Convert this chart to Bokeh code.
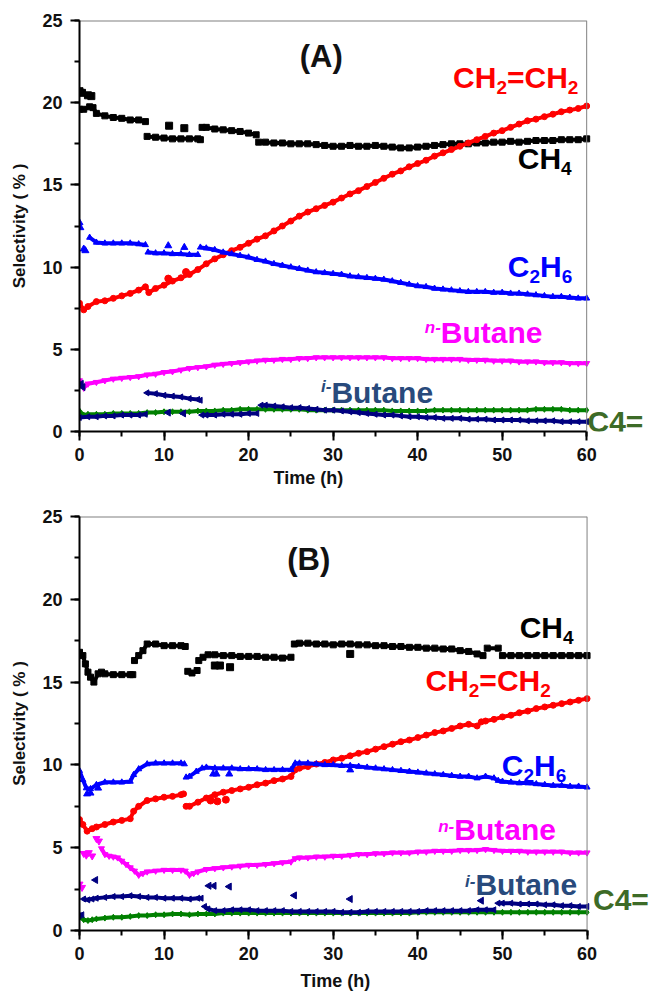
import math
from bokeh.plotting import figure
from bokeh.models import Label, SingleIntervalTicker, Range1d, Span, Title
from bokeh.layouts import column
from bokeh.embed import file_html
from bokeh.resources import INLINE

NAN = float("nan")

# ---------------- Panel (A) data: (time h, selectivity %) segments ----------------
A_CH4 = [
    [(0, 19.6), (0.5, 19.6), (1.2, 19.75), (1.6, 19.7), (2, 19.35), (3, 19.2), (4, 19.1), (5, 19.05),
     (6, 18.95), (7, 18.95), (7.8, 18.85)],
    [(8, 17.95), (9, 17.9), (10, 17.85), (11, 17.8), (12, 17.8), (13, 17.8), (14, 17.8), (14.3, 17.75)],
    [(14.5, 18.5), (15, 18.5), (16, 18.4), (17, 18.35), (18, 18.3), (19, 18.25), (20, 18.15), (20.9, 18.05)],
    [(21.2, 17.6), (22, 17.6), (23, 17.55), (24, 17.55), (25, 17.5), (26, 17.5), (27, 17.5), (28, 17.45),
     (29, 17.4), (30, 17.35), (31, 17.35), (32, 17.4), (33, 17.35), (34, 17.35), (35, 17.4), (36, 17.35),
     (37, 17.3), (38, 17.25), (39, 17.25), (40, 17.3), (41, 17.35), (42, 17.4), (43, 17.45), (44, 17.5),
     (45, 17.5), (46, 17.5), (47, 17.55), (48, 17.55), (49, 17.6), (50, 17.6), (51, 17.65), (52, 17.6),
     (53, 17.65), (54, 17.7), (55, 17.7), (56, 17.7), (57, 17.75), (58, 17.75), (59, 17.75), (60, 17.8)],
]
A_CH4_pts = [(0, 20.7), (0.3, 20.6), (1.0, 20.45), (1.4, 20.4), (10.6, 18.6), (12.4, 18.45)]

A_C2H4 = [
    [(0, 7.8), (0.5, 7.4), (1, 7.6), (2, 7.9), (3, 7.95), (4, 8.1), (5, 8.25), (6, 8.4), (7, 8.6), (7.8, 8.8),
     (8.2, 8.45), (9, 8.7), (10, 8.9), (11, 9.15), (12, 9.35), (13, 9.55), (14, 9.85), (15, 10.2), (16, 10.5),
     (17, 10.75), (18, 11.0), (19, 11.2), (20, 11.45), (21, 11.7), (22, 11.9), (23, 12.2), (24, 12.5),
     (25, 12.8), (26, 13.1), (27, 13.35), (28, 13.55), (29, 13.75), (30, 13.95), (31, 14.2), (32, 14.45),
     (33, 14.65), (34, 14.9), (35, 15.15), (36, 15.4), (37, 15.65), (38, 15.85), (39, 16.1), (40, 16.3),
     (41, 16.5), (42, 16.75), (43, 16.95), (44, 17.15), (45, 17.35), (46, 17.55), (47, 17.75), (48, 17.95),
     (49, 18.15), (50, 18.3), (51, 18.5), (52, 18.7), (53, 18.9), (54, 19.0), (55, 19.15), (56, 19.3),
     (57, 19.45), (58, 19.55), (59, 19.65), (60, 19.8)],
]
A_C2H4_pts = [(10.5, 9.3), (12.6, 9.7)]

A_C2H6 = [
    [(1.2, 11.8), (2, 11.5), (3, 11.45), (4, 11.45), (5, 11.45), (6, 11.45), (7, 11.4), (7.8, 11.35)],
    [(8.1, 10.9), (9, 10.85), (10, 10.85), (11, 10.8), (12, 10.8), (13, 10.75), (14, 10.75)],
    [(14.3, 11.2), (15, 11.15), (16, 11.05), (17, 10.9), (18, 10.8), (19, 10.7), (20, 10.6), (21, 10.45),
     (22, 10.35), (23, 10.2), (24, 10.1), (25, 10.0), (26, 9.9), (27, 9.8), (28, 9.7), (29, 9.65), (30, 9.6),
     (31, 9.55), (32, 9.45), (33, 9.4), (34, 9.35), (35, 9.3), (36, 9.25), (37, 9.15), (38, 9.05), (39, 8.95),
     (40, 8.85), (41, 8.8), (42, 8.7), (43, 8.65), (44, 8.6), (45, 8.55), (46, 8.5), (47, 8.5), (48, 8.5),
     (49, 8.45), (50, 8.45), (51, 8.4), (52, 8.4), (53, 8.35), (54, 8.3), (55, 8.25), (56, 8.2), (57, 8.2),
     (58, 8.15), (59, 8.1), (60, 8.1)],
]
A_C2H6_pts = [(0, 12.7), (0.1, 12.4), (0.5, 11.1), (0.7, 11.0), (10.5, 11.3), (12.4, 11.2)]

A_nBut = [
    [(0, 3.1), (0.5, 2.65), (1, 2.9), (2, 3.0), (3, 3.1), (4, 3.2), (5, 3.25), (6, 3.3), (7, 3.35), (8, 3.45),
     (9, 3.5), (10, 3.6), (11, 3.65), (12, 3.75), (13, 3.85), (14, 3.9), (15, 3.95), (16, 4.05), (17, 4.1),
     (18, 4.15), (19, 4.2), (20, 4.25), (21, 4.3), (22, 4.35), (23, 4.35), (24, 4.4), (25, 4.4), (26, 4.45),
     (27, 4.45), (28, 4.5), (29, 4.5), (30, 4.5), (31, 4.5), (32, 4.5), (33, 4.5), (34, 4.5), (35, 4.5),
     (36, 4.5), (37, 4.45), (38, 4.45), (39, 4.45), (40, 4.45), (41, 4.4), (42, 4.4), (43, 4.4), (44, 4.4),
     (45, 4.4), (46, 4.35), (47, 4.35), (48, 4.35), (49, 4.3), (50, 4.3), (51, 4.3), (52, 4.25), (53, 4.25),
     (54, 4.25), (55, 4.2), (56, 4.2), (57, 4.2), (58, 4.15), (59, 4.15), (60, 4.15)],
]
A_nBut_pts = []

A_iBut = [
    [(0, 0.85), (1, 0.9), (2, 0.9), (3, 0.95), (4, 0.95), (5, 1.0), (6, 1.0), (7, 1.0), (7.8, 1.05)],
    [(8, 2.35), (9, 2.3), (10, 2.2), (11, 2.15), (12, 2.1), (13, 2.0), (14, 1.95), (14.3, 1.9)],
    [(14.5, 1.0), (15, 1.0), (16, 1.0), (17, 1.05), (18, 1.05), (19, 1.05), (20, 1.1), (21, 1.1)],
    [(21.5, 1.6), (22, 1.6), (23, 1.55), (24, 1.5), (25, 1.45), (26, 1.45), (27, 1.4), (28, 1.35), (29, 1.3),
     (30, 1.3), (31, 1.25), (32, 1.2), (33, 1.15), (34, 1.1), (35, 1.05), (36, 1.0), (37, 1.0), (38, 0.95),
     (39, 0.9), (40, 0.9), (41, 0.85), (42, 0.85), (43, 0.8), (44, 0.8), (45, 0.8), (46, 0.75), (47, 0.75),
     (48, 0.75), (49, 0.7), (50, 0.7), (51, 0.7), (52, 0.7), (53, 0.65), (54, 0.65), (55, 0.65), (56, 0.65),
     (57, 0.6), (58, 0.6), (59, 0.6), (60, 0.6)],
]
A_iBut_pts = [(0.2, 2.9), (0.4, 2.7), (10.5, 1.15), (12.3, 1.1)]

A_C4 = [
    [(0, 1.25), (0.5, 1.0), (1, 1.05), (2, 1.05), (3, 1.05), (4, 1.1), (5, 1.1), (6, 1.1), (7, 1.1), (8, 1.15),
     (9, 1.15), (10, 1.2), (11, 1.2), (12, 1.2), (13, 1.2), (14, 1.25), (15, 1.25), (16, 1.25), (17, 1.3),
     (18, 1.3), (19, 1.35), (20, 1.35), (21, 1.35), (22, 1.35), (23, 1.35), (24, 1.35), (25, 1.35), (26, 1.35),
     (27, 1.3), (28, 1.3), (29, 1.3), (30, 1.3), (31, 1.3), (32, 1.3), (33, 1.3), (34, 1.3), (35, 1.3),
     (36, 1.3), (37, 1.25), (38, 1.25), (39, 1.25), (40, 1.25), (41, 1.25), (42, 1.3), (43, 1.3), (44, 1.3),
     (45, 1.3), (46, 1.3), (47, 1.3), (48, 1.3), (49, 1.3), (50, 1.3), (51, 1.3), (52, 1.3), (53, 1.3),
     (54, 1.35), (55, 1.35), (56, 1.35), (57, 1.35), (58, 1.3), (59, 1.3), (60, 1.3)],
]
A_C4_pts = []

# ---------------- Panel (B) data ----------------
B_CH4 = [
    [(0, 16.8), (0.4, 16.6), (0.7, 16.1), (1.0, 15.6), (1.3, 15.3), (1.7, 15.0), (2.2, 15.5), (2.6, 15.6),
     (3, 15.5), (4, 15.45), (5, 15.45), (6, 15.45), (6.3, 15.45)],
    [(6.5, 16.3), (7, 16.6), (7.5, 16.9), (8, 17.3), (9, 17.3), (10, 17.2), (11, 17.2), (12, 17.2), (12.5, 17.15)],
    [(12.8, 15.65), (13.3, 15.55), (13.9, 15.7)],
    [(14.1, 16.3), (14.6, 16.5), (15.2, 16.65), (16, 16.65), (17, 16.6), (18, 16.6), (19, 16.55), (20, 16.55),
     (21, 16.55), (22, 16.5), (23, 16.5), (24, 16.45), (25, 16.5)],
    [(25.4, 17.3), (26, 17.35), (27, 17.35), (28, 17.3), (29, 17.3), (30, 17.25), (31, 17.3), (32, 17.3),
     (33, 17.25), (34, 17.25), (35, 17.2), (36, 17.2), (37, 17.15), (38, 17.15), (39, 17.1), (40, 17.1),
     (41, 17.05), (42, 17.05), (43, 17.0), (44, 17.0), (45, 16.9), (46, 16.85), (47, 16.7), (47.7, 16.6)],
    [(48.2, 17.05), (49.5, 17.05)],
    [(50, 16.6), (51, 16.6), (52, 16.6), (53, 16.6), (54, 16.6), (55, 16.6), (56, 16.6), (57, 16.6),
     (58, 16.6), (59, 16.6), (60, 16.6)],
]
B_CH4_pts = [(16.0, 16.0), (16.6, 16.0), (17.8, 15.9), (32.0, 16.7)]

B_C2H4 = [
    [(0, 6.7), (0.4, 6.4), (0.9, 6.0), (1.5, 6.15), (2, 6.25), (3, 6.4), (4, 6.55), (5, 6.65), (6, 6.75),
     (6.4, 7.2), (7, 7.5), (8, 7.85), (9, 7.95), (10, 8.05), (11, 8.1), (12, 8.2), (12.3, 8.25)],
    [(12.6, 7.5), (13, 7.5), (14, 7.75), (15, 8.0), (16, 8.2), (17, 8.35), (18, 8.45), (19, 8.55), (20, 8.65),
     (21, 8.8), (22, 8.9), (23, 9.05), (24, 9.15), (25, 9.3), (25.5, 9.7), (26, 9.8), (27, 9.9), (28, 10.05),
     (29, 10.15), (30, 10.3), (31, 10.4), (32, 10.55), (33, 10.7), (34, 10.8), (35, 10.95), (36, 11.1),
     (37, 11.25), (38, 11.4), (39, 11.5), (40, 11.65), (41, 11.8), (42, 11.95), (43, 12.05), (44, 12.2),
     (45, 12.35), (46, 12.45), (47, 12.35), (47.5, 12.6), (48, 12.65), (49, 12.75), (50, 12.9), (51, 13.0),
     (52, 13.15), (53, 13.25), (54, 13.4), (55, 13.5), (56, 13.6), (57, 13.7), (58, 13.8), (59, 13.9), (60, 14.0)],
]
B_C2H4_pts = [(15.5, 7.85), (16.3, 7.8), (17.3, 7.9)]

B_C2H6 = [
    [(0, 9.65), (0.4, 9.1), (0.8, 8.6), (1.3, 8.55), (2, 8.8), (3, 8.95), (4, 8.95), (5, 8.95), (6, 9.0),
     (6.4, 9.4), (7, 9.75), (8, 10.05), (9, 10.1), (10, 10.1), (11, 10.1), (12, 10.1), (12.4, 10.05)],
    [(12.6, 9.25), (13, 9.3), (13.8, 9.6), (14.5, 9.8), (15, 9.85), (16, 9.8), (17, 9.8), (18, 9.8), (19, 9.75),
     (20, 9.75), (21, 9.75), (22, 9.7), (23, 9.7), (24, 9.7), (25, 9.7), (25.5, 10.1), (26, 10.1), (27, 10.1),
     (28, 10.05), (29, 10.0), (30, 10.0), (31, 9.95), (32, 9.95), (33, 9.9), (34, 9.85), (35, 9.8), (36, 9.75),
     (37, 9.7), (38, 9.65), (39, 9.6), (40, 9.55), (41, 9.5), (42, 9.45), (43, 9.4), (44, 9.35), (45, 9.3),
     (46, 9.3), (47, 9.2), (48, 9.3), (49, 9.2), (49.5, 9.05), (50, 9.0), (51, 8.95), (52, 8.9), (53, 8.9),
     (54, 8.85), (55, 8.8), (56, 8.75), (57, 8.75), (58, 8.7), (59, 8.7), (60, 8.65)],
]
B_C2H6_pts = [(0.9, 8.25), (1.3, 8.3), (2.2, 8.6), (15.8, 9.45), (16.2, 9.45), (17.7, 9.45), (32, 9.7)]

B_nBut = [
    [(2.6, 4.95), (3, 4.6), (3.5, 4.5), (4, 4.45), (4.5, 4.4), (5, 4.2), (5.5, 4.0), (6, 3.8), (6.5, 3.6),
     (7, 3.35), (7.5, 3.45), (8, 3.55), (9, 3.6), (10, 3.65), (11, 3.65), (12, 3.65), (12.5, 3.6), (13, 3.35),
     (13.5, 3.45), (14, 3.55), (15, 3.7), (16, 3.75), (17, 3.8), (18, 3.85), (19, 3.9), (20, 3.95), (21, 3.95),
     (22, 4.0), (23, 4.05), (24, 4.1), (25, 4.15), (25.5, 4.35), (26, 4.4), (27, 4.4), (28, 4.45), (29, 4.45),
     (30, 4.5), (31, 4.5), (32, 4.55), (33, 4.6), (34, 4.6), (35, 4.65), (36, 4.65), (37, 4.7), (38, 4.7),
     (39, 4.7), (40, 4.75), (41, 4.75), (42, 4.8), (43, 4.8), (44, 4.8), (45, 4.85), (46, 4.85), (47, 4.85),
     (48, 4.9), (49, 4.85), (50, 4.8), (51, 4.8), (52, 4.8), (53, 4.75), (54, 4.75), (55, 4.75), (56, 4.75),
     (57, 4.75), (58, 4.7), (59, 4.7), (60, 4.7)],
]
B_nBut_pts = [(0, 2.8), (0.3, 2.6), (0.5, 4.65), (0.8, 4.55), (1.1, 4.7), (1.5, 4.5), (2.0, 5.55), (2.3, 5.4)]

B_iBut = [
    [(0, 0.9), (0.3, 0.95)],
    [(0.5, 1.9), (1, 1.85), (1.5, 1.9), (2, 1.95), (3, 2.0), (4, 2.05), (5, 2.05), (6, 2.1), (7, 2.05), (8, 2.0),
     (9, 2.0), (10, 1.95), (11, 1.95), (12, 1.95), (13, 1.9), (14, 1.95), (14.4, 1.95)],
    [(14.8, 1.45), (15.2, 1.3), (16, 1.2), (17, 1.2), (18, 1.25), (19, 1.25), (20, 1.25), (21, 1.2), (22, 1.2),
     (23, 1.2), (24, 1.2), (25, 1.15), (26, 1.15), (27, 1.15), (28, 1.15), (29, 1.15), (30, 1.15), (31, 1.1),
     (32, 1.1), (33, 1.1), (34, 1.15), (35, 1.15), (36, 1.15), (37, 1.15), (38, 1.15), (39, 1.15), (40, 1.15),
     (41, 1.2), (42, 1.2), (43, 1.2), (44, 1.2), (45, 1.2), (46, 1.2), (47, 1.25), (48, 1.25), (49, 1.25)],
    [(49.5, 1.65), (50, 1.65), (51, 1.65), (52, 1.6), (53, 1.6), (54, 1.6), (55, 1.55), (56, 1.55), (57, 1.5),
     (58, 1.5), (59, 1.45), (60, 1.45)],
]
B_iBut_pts = [(1.9, 3.05), (15.3, 2.7), (15.9, 2.7), (17.7, 2.65), (25.4, 2.12), (32.0, 1.9), (47.5, 1.8)]

B_C4 = [
    [(0, 0.8), (0.5, 0.65), (1, 0.6), (1.5, 0.65), (2, 0.7), (3, 0.75), (4, 0.8), (5, 0.8), (6, 0.85), (7, 0.9),
     (8, 0.9), (9, 0.95), (10, 0.95), (11, 1.0), (12, 1.0), (13, 0.95), (14, 1.0), (15, 1.0), (16, 1.0),
     (17, 1.05), (18, 1.05), (19, 1.05), (20, 1.05), (21, 1.05), (22, 1.05), (23, 1.05), (24, 1.05), (25, 1.05),
     (26, 1.05), (27, 1.05), (28, 1.05), (29, 1.05), (30, 1.05), (31, 1.05), (32, 1.05), (33, 1.05), (34, 1.05),
     (35, 1.05), (36, 1.05), (37, 1.05), (38, 1.05), (39, 1.05), (40, 1.1), (41, 1.1), (42, 1.1), (43, 1.1),
     (44, 1.1), (45, 1.1), (46, 1.1), (47, 1.1), (48, 1.1), (49, 1.1), (50, 1.1), (51, 1.1), (52, 1.1),
     (53, 1.1), (54, 1.1), (55, 1.1), (56, 1.1), (57, 1.1), (58, 1.1), (59, 1.1), (60, 1.1)],
]
B_C4_pts = []

X_LABEL = "Time (h)"
Y_LABEL = "Selectivity ( % )"
X_MAX = 60
Y_MAX = 25

FONT = "Liberation Sans"
STYLES = {
    "CH4": ("#000000", "square", 0.0),
    "C2H4": ("#ff0000", "circle", 0.0),
    "C2H6": ("#0000ff", "triangle", 0.0),
    "nBut": ("#ff00ff", "inverted_triangle", 0.0),
    "C4": ("#008000", "diamond", 0.0),
    "iBut": ("#000080", "triangle", math.pi / 2),
}

# Arial/Liberation Sans Bold advance widths (em)
ADV = {"C": 0.722, "H": 0.722, "=": 0.584, "2": 0.556, "4": 0.556, "6": 0.556}


def flatten(segs):
    xs, ys = [], []
    for i, seg in enumerate(segs):
        if i:
            xs.append(NAN)
            ys.append(NAN)
        for t, v in seg:
            xs.append(t)
            ys.append(v)
    return xs, ys


def make_panel(width, height, bl, br, bt, bb, x_end, xlab_offset, xlab_standoff, series):
    p = figure(width=width, height=height, x_range=Range1d(0, x_end), y_range=Range1d(0, Y_MAX),
               output_backend="svg", toolbar_location=None,
               min_border_left=bl, min_border_right=br, min_border_top=bt, min_border_bottom=bb)
    p.xgrid.visible = False
    p.ygrid.visible = False
    p.outline_line_color = None
    p.background_fill_color = "white"
    p.border_fill_color = "white"

    p.xaxis.ticker = SingleIntervalTicker(interval=10, num_minor_ticks=2)
    p.yaxis.ticker = SingleIntervalTicker(interval=5, num_minor_ticks=2)
    p.xaxis.bounds = (0, X_MAX)
    for ax in (p.xaxis[0], p.yaxis[0]):
        ax.axis_line_color = "#000000"
        ax.axis_line_width = 2
        ax.major_tick_line_color = "#000000"
        ax.major_tick_line_width = 2
        ax.minor_tick_line_color = "#000000"
        ax.minor_tick_line_width = 2
        ax.major_tick_in = 0
        ax.major_tick_out = 9
        ax.minor_tick_in = 0
        ax.minor_tick_out = 5
        ax.major_label_text_font = FONT
        ax.major_label_text_font_style = "bold"
        ax.major_label_text_font_size = "18px"
        ax.major_label_text_color = "#111111"
        ax.axis_label_text_font = FONT
        ax.axis_label_text_font_style = "bold"
        ax.axis_label_text_color = "#111111"
        ax.axis_label_text_font_size = "17px"
    p.xaxis.major_label_standoff = 7
    p.yaxis.major_label_standoff = 8
    p.yaxis.axis_label = Y_LABEL
    p.yaxis.axis_label_standoff = 10
    # x-axis title placed under the tick labels, positioned like the original
    p.add_layout(Title(text=X_LABEL, align="left", offset=xlab_offset, standoff=xlab_standoff,
                       text_font=FONT, text_font_style="bold", text_font_size="18px",
                       text_color="#111111"), "below")

    # frame: thin grey right and top borders ending at the axis bounds
    p.add_layout(Span(location=X_MAX, dimension="height", line_color="#808080", line_width=1))
    p.line([0, X_MAX], [Y_MAX, Y_MAX], line_color="#808080", line_width=2)

    for key, segs, pts in series:
        color, marker, angle = STYLES[key]
        xs, ys = flatten(segs)
        p.line(xs, ys, line_color=color, line_width=4)
        p.scatter(xs, ys, marker=marker, size=6, angle=angle, fill_color=color, line_color=color)
        if pts:
            px = [t for t, v in pts]
            py = [v for t, v in pts]
            p.scatter(px, py, marker=marker, size=7, angle=angle, fill_color=color, line_color=color)
    return p


def lab(p, x, y, text, color, size=30, align="left", baseline="alphabetic", style="bold", xo=0, yo=0):
    # the svg text is drawn about a third of an em below the requested baseline: compensate
    comp = size / 3.0 if baseline == "alphabetic" else 0
    p.add_layout(Label(x=x, y=y, text=text, text_color=color, text_font=FONT, text_font_style=style,
                       text_font_size=f"{size}px", text_align=align, text_baseline=baseline,
                       x_offset=xo, y_offset=yo + comp))


def formula(p, x, y, pieces, color, size=30, sub=19, drop=6):
    """pieces: list of (text, is_subscript); placed left to right from x (data) with pixel offsets"""
    off = 0.0
    for text, is_sub in pieces:
        fs = sub if is_sub else size
        lab(p, x, y, text, color, size=fs, xo=off, yo=-drop if is_sub else 0)
        off += sum(ADV[c] for c in text) * fs


IB_COLOR = "#284a7c"
C4_COLOR = "#3d6b27"
ETHYLENE = [("CH", False), ("2", True), ("=CH", False), ("2", True)]
METHANE = [("CH", False), ("4", True)]
ETHANE = [("C", False), ("2", True), ("H", False), ("6", True)]

series_A = [("CH4", A_CH4, A_CH4_pts), ("C2H4", A_C2H4, A_C2H4_pts), ("C2H6", A_C2H6, A_C2H6_pts),
            ("nBut", A_nBut, A_nBut_pts), ("C4", A_C4, A_C4_pts), ("iBut", A_iBut, A_iBut_pts)]
series_B = [("CH4", B_CH4, B_CH4_pts), ("C2H4", B_C2H4, B_C2H4_pts), ("C2H6", B_C2H6, B_C2H6_pts),
            ("nBut", B_nBut, B_nBut_pts), ("C4", B_C4, B_C4_pts), ("iBut", B_iBut, B_iBut_pts)]

pA = make_panel(655, 494, 78, 5, 20, 63, 67.55, 194, 4, series_A)
lab(pA, 28.6, 22.8, "(A)", "#111111", size=31, align="center", baseline="middle")
formula(pA, 44.2, 20.9, ETHYLENE, "#ff0000")
formula(pA, 51.85, 16.0, METHANE, "#000000")
formula(pA, 50.67, 9.4, ETHANE, "#0000ff")
lab(pA, 42.75, 5.43, "Butane", "#ff00ff")
lab(pA, 42.75, 5.96, "n-", "#ff00ff", size=17, align="right", style="bold italic")
lab(pA, 29.8, 1.78, "Butane", IB_COLOR)
lab(pA, 29.8, 2.37, "i-", IB_COLOR, size=17, align="right", style="bold italic")
lab(pA, 60.1, 0.0, "C4=", C4_COLOR)

pB = make_panel(655, 505, 79, 0, 22, 69, 67.5, 221, 12, series_B)
lab(pB, 27.1, 22.43, "(B)", "#111111", size=31, align="center", baseline="middle")
formula(pB, 52.03, 17.67, METHANE, "#000000")
formula(pB, 40.9, 14.49, ETHYLENE, "#ff0000")
formula(pB, 49.92, 9.36, ETHANE, "#0000ff")
lab(pB, 44.3, 5.48, "Butane", "#ff00ff")
lab(pB, 44.3, 5.92, "n-", "#ff00ff", size=17, align="right", style="bold italic")
lab(pB, 46.8, 2.2, "Butane", IB_COLOR)
lab(pB, 46.8, 2.6, "i-", IB_COLOR, size=17, align="right", style="bold italic")
lab(pB, 60.7, 1.25, "C4=", C4_COLOR)

layout = column(pA, pB, spacing=0)
open("out.html", "w").write(file_html(layout, INLINE))
